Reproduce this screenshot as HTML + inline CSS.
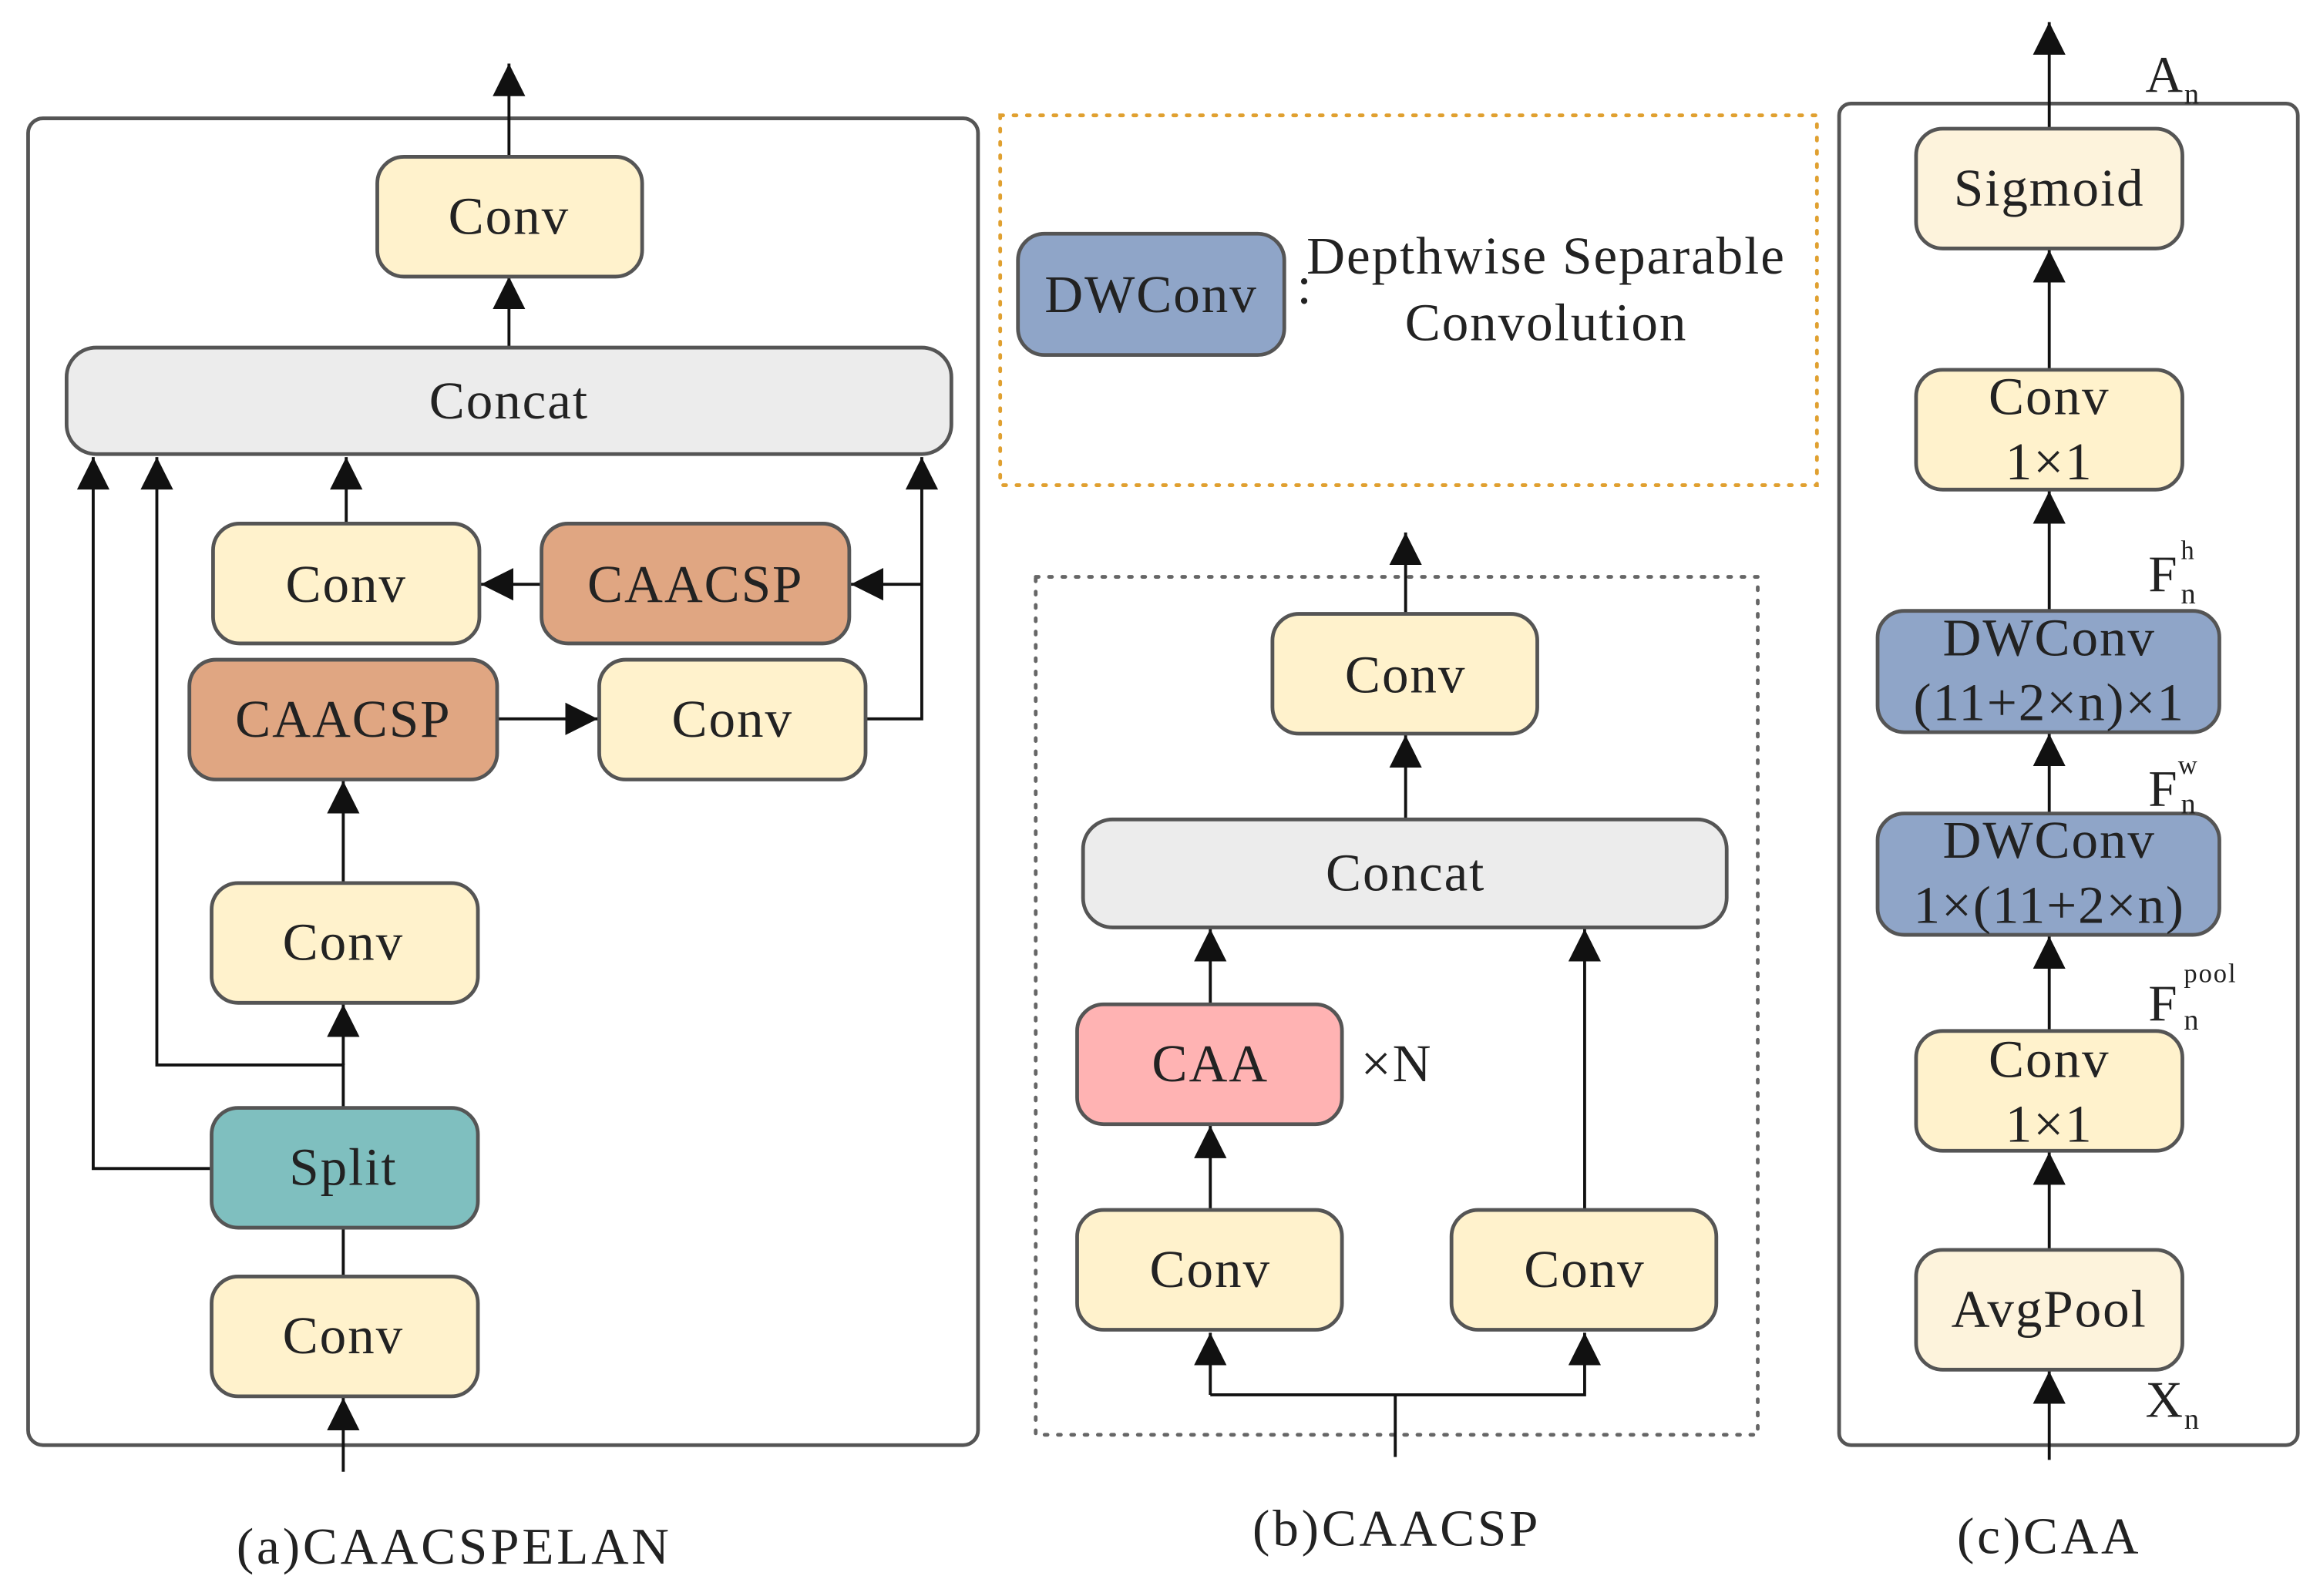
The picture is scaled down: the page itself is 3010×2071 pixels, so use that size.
<!DOCTYPE html>
<html><head><meta charset="utf-8"><style>
html,body{margin:0;padding:0;background:#fff;}
svg{display:block;}
text{font-family:"Liberation Serif",serif;fill:#222;letter-spacing:1px;}
</style></head><body>
<svg width="3010" height="2071" viewBox="0 0 1568 1079" preserveAspectRatio="none" xmlns="http://www.w3.org/2000/svg">
<defs>
<marker id="a" markerUnits="userSpaceOnUse" markerWidth="24" markerHeight="24" refX="22" refY="11" orient="auto">
<path d="M0,0 L22,11 L0,22 z" fill="#111"/>
</marker>
</defs>
<g fill="none" stroke="#111" stroke-width="2">
<rect x="19" y="80" width="642" height="897" rx="10" stroke="#555" stroke-width="2.5"/>
<line x1="344" y1="106" x2="344" y2="43" marker-end="url(#a)"/>
<line x1="344" y1="235" x2="344" y2="187" marker-end="url(#a)"/>
<polyline points="143,790 63,790 63,309" marker-end="url(#a)"/>
<polyline points="232,749 232,720 106,720 106,309" marker-end="url(#a)"/>
<line x1="232" y1="720" x2="232" y2="679" marker-end="url(#a)"/>
<line x1="232" y1="597" x2="232" y2="528" marker-end="url(#a)"/>
<line x1="232" y1="863" x2="232" y2="830"/>
<line x1="232" y1="995" x2="232" y2="945" marker-end="url(#a)"/>
<line x1="336" y1="486" x2="404" y2="486" marker-end="url(#a)"/>
<polyline points="585,486 623,486 623,309" marker-end="url(#a)"/>
<line x1="623" y1="395" x2="575" y2="395" marker-end="url(#a)"/>
<line x1="366" y1="395" x2="325" y2="395" marker-end="url(#a)"/>
<line x1="234" y1="354" x2="234" y2="309" marker-end="url(#a)"/>
<rect x="676" y="78" width="552" height="250" stroke="#e0a030" stroke-width="2.5" stroke-dasharray="2,7" stroke-linecap="round"/>
<rect x="700" y="390" width="488" height="580" stroke="#666" stroke-width="2.5" stroke-dasharray="2,7" stroke-linecap="round"/>
<line x1="950" y1="415" x2="950" y2="360" marker-end="url(#a)"/>
<line x1="950" y1="554" x2="950" y2="497" marker-end="url(#a)"/>
<line x1="818" y1="679" x2="818" y2="628" marker-end="url(#a)"/>
<line x1="818" y1="818" x2="818" y2="761" marker-end="url(#a)"/>
<line x1="1071" y1="818" x2="1071" y2="628" marker-end="url(#a)"/>
<line x1="943" y1="985" x2="943" y2="943"/>
<polyline points="818,943 818,901" marker-end="url(#a)"/>
<polyline points="818,943 1071,943 1071,901" marker-end="url(#a)"/>
<rect x="1243" y="70" width="310" height="907" rx="8" stroke="#555" stroke-width="2.5"/>
<line x1="1385" y1="87" x2="1385" y2="15" marker-end="url(#a)"/>
<line x1="1385" y1="250" x2="1385" y2="169" marker-end="url(#a)"/>
<line x1="1385" y1="413" x2="1385" y2="332" marker-end="url(#a)"/>
<line x1="1385" y1="550" x2="1385" y2="496" marker-end="url(#a)"/>
<line x1="1385" y1="697" x2="1385" y2="633" marker-end="url(#a)"/>
<line x1="1385" y1="845" x2="1385" y2="779" marker-end="url(#a)"/>
<line x1="1385" y1="987" x2="1385" y2="927" marker-end="url(#a)"/>
</g>
<g stroke="#555" stroke-width="2.5">
<rect x="255" y="106" width="179" height="81" rx="18" fill="#fff2cc"/>
<rect x="45" y="235" width="598" height="72" rx="20" fill="#ececec"/>
<rect x="144" y="354" width="180" height="81" rx="18" fill="#fff2cc"/>
<rect x="366" y="354" width="208" height="81" rx="18" fill="#e0a682"/>
<rect x="128" y="446" width="208" height="81" rx="18" fill="#e0a682"/>
<rect x="405" y="446" width="180" height="81" rx="18" fill="#fff2cc"/>
<rect x="143" y="597" width="180" height="81" rx="18" fill="#fff2cc"/>
<rect x="143" y="749" width="180" height="81" rx="18" fill="#7fbfbf"/>
<rect x="143" y="863" width="180" height="81" rx="18" fill="#fff2cc"/>
<rect x="688" y="158" width="180" height="82" rx="18" fill="#8fa5c8"/>
<rect x="860" y="415" width="179" height="81" rx="18" fill="#fff2cc"/>
<rect x="732" y="554" width="435" height="73" rx="20" fill="#ececec"/>
<rect x="728" y="679" width="179" height="81" rx="18" fill="#ffb3b3"/>
<rect x="728" y="818" width="179" height="81" rx="18" fill="#fff2cc"/>
<rect x="981" y="818" width="179" height="81" rx="18" fill="#fff2cc"/>
<rect x="1295" y="87" width="180" height="81" rx="18" fill="#fdf3dc"/>
<rect x="1295" y="250" width="180" height="81" rx="18" fill="#fff2cc"/>
<rect x="1269" y="413" width="231" height="82" rx="18" fill="#8fa5c8"/>
<rect x="1269" y="550" width="231" height="82" rx="18" fill="#8fa5c8"/>
<rect x="1295" y="697" width="180" height="81" rx="18" fill="#fff2cc"/>
<rect x="1295" y="845" width="180" height="81" rx="18" fill="#fdf3dc"/>
</g>
<g font-size="36" text-anchor="middle">
<text x="344" y="158">Conv</text>
<text x="344" y="283">Concat</text>
<text x="234" y="407">Conv</text>
<text x="470" y="407">CAACSP</text>
<text x="232" y="498">CAACSP</text>
<text x="495" y="498">Conv</text>
<text x="232" y="649">Conv</text>
<text x="232" y="801">Split</text>
<text x="232" y="915">Conv</text>
<text x="778" y="211">DWConv</text>
<text x="1045" y="185">Depthwise Separable</text>
<text x="1045" y="230">Convolution</text>
<text x="882" y="205">:</text>
<text x="950" y="468">Conv</text>
<text x="950" y="602">Concat</text>
<text x="818" y="731">CAA</text>
<text x="944" y="731">×N</text>
<text x="818" y="870">Conv</text>
<text x="1071" y="870">Conv</text>
<text x="1385" y="139">Sigmoid</text>
<text x="1385" y="280">Conv</text>
<text x="1385" y="324">1×1</text>
<text x="1385" y="443">DWConv</text>
<text x="1385" y="487">(11+2×n)×1</text>
<text x="1385" y="580">DWConv</text>
<text x="1385" y="624">1×(11+2×n)</text>
<text x="1385" y="728">Conv</text>
<text x="1385" y="772">1×1</text>
<text x="1385" y="897">AvgPool</text>
</g>
<g font-size="35">
<text x="307" y="1057" text-anchor="middle" style="letter-spacing:2px">(a)CAACSPELAN</text>
<text x="944" y="1045" text-anchor="middle" style="letter-spacing:2px">(b)CAACSP</text>
<text x="1385" y="1050" text-anchor="middle" style="letter-spacing:2px">(c)CAA</text>
<text x="1450" y="62">A<tspan font-size="20" dy="8">n</tspan></text>
<text x="1452" y="400">F</text><text x="1474" y="378" font-size="18">h</text><text x="1474" y="408" font-size="20">n</text>
<text x="1452" y="545">F</text><text x="1472" y="523" font-size="18">w</text><text x="1474" y="550" font-size="20">n</text>
<text x="1452" y="690">F</text><text x="1476" y="664" font-size="18">pool</text><text x="1476" y="696" font-size="20">n</text>
<text x="1450" y="958">X<tspan font-size="20" dy="8">n</tspan></text>
</g>
</svg>
</body></html>
